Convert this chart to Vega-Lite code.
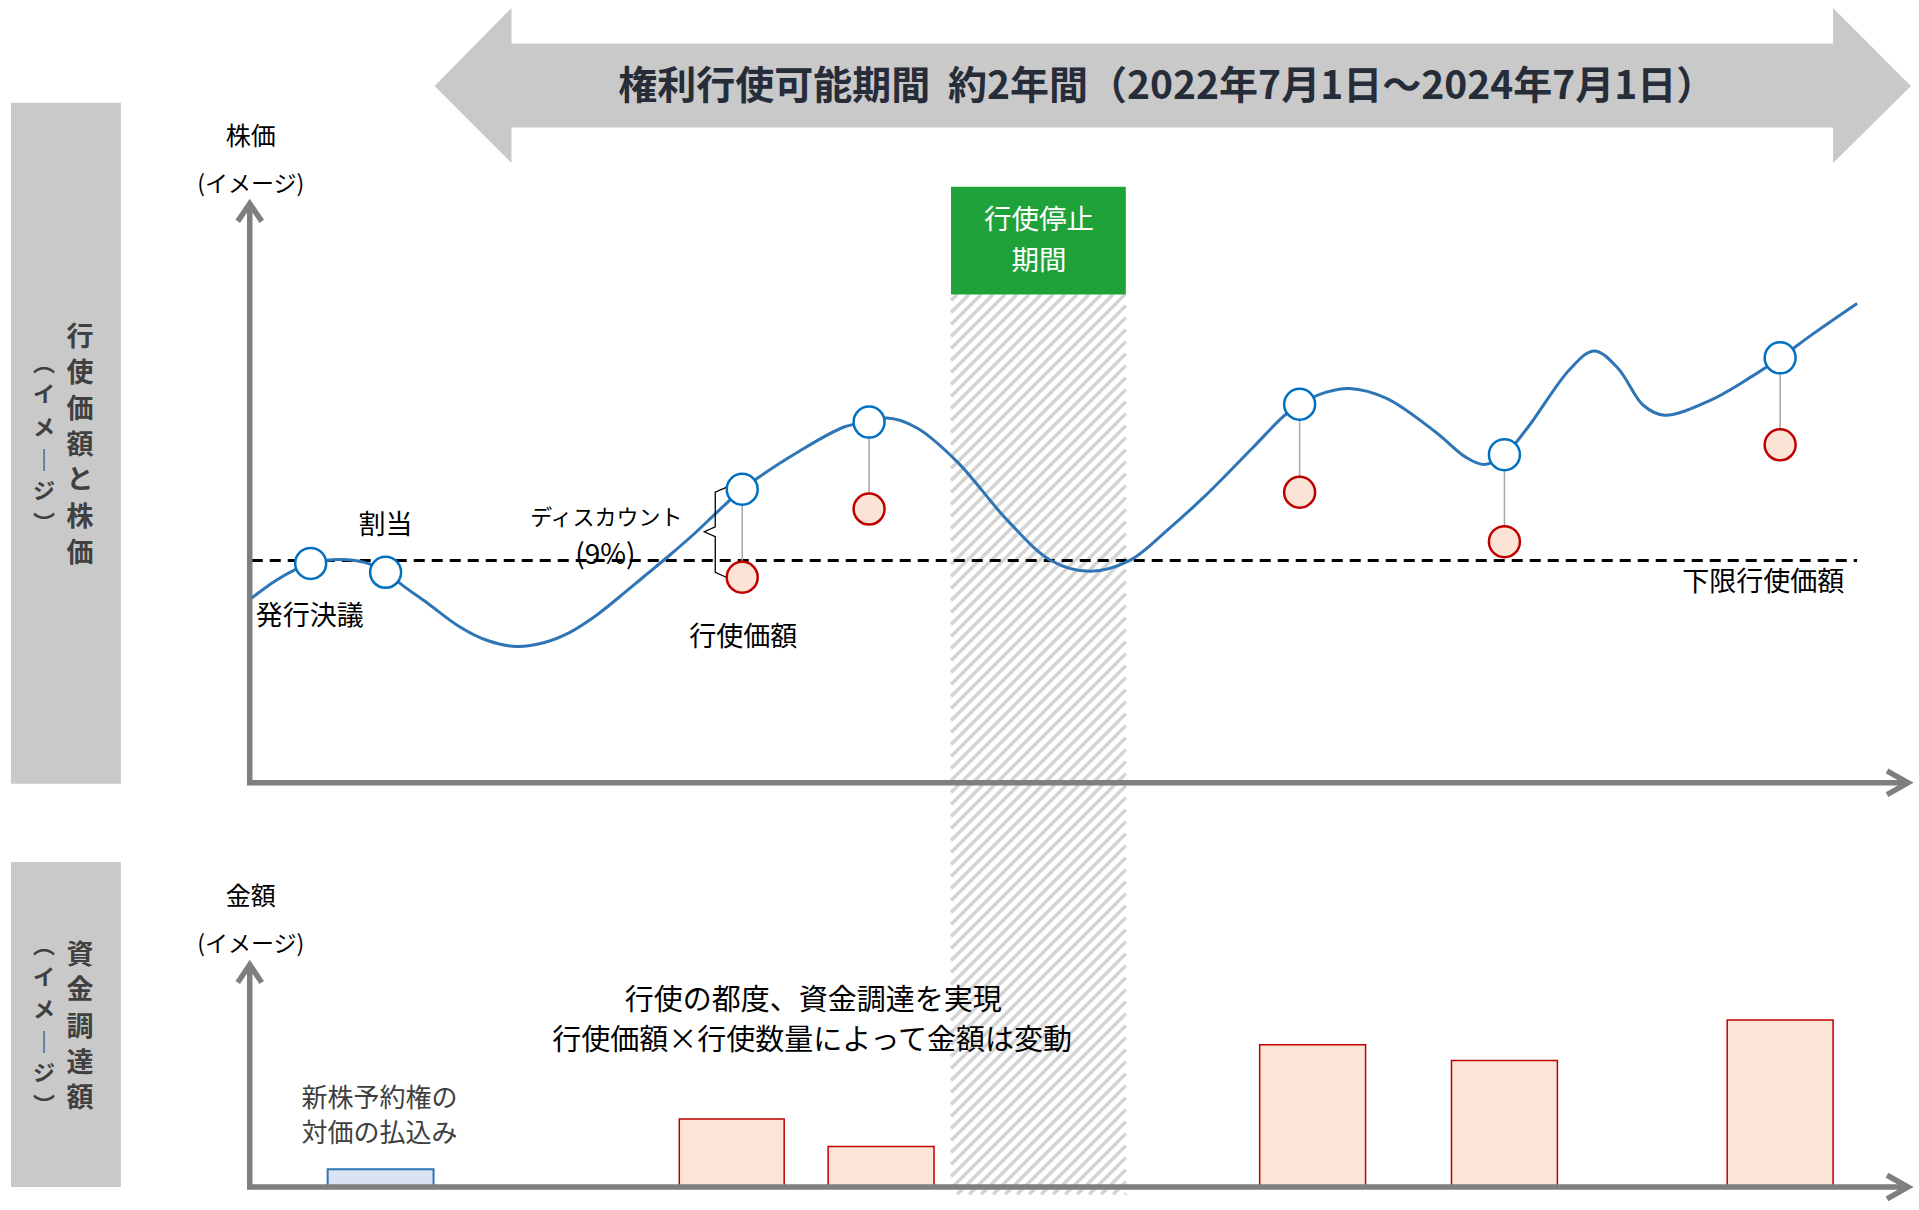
{
  "$schema": "https://vega.github.io/schema/vega-lite/v6.json",
  "width": 1919,
  "height": 1210,
  "autosize": {"type": "fit", "contains": "padding"},
  "padding": 0,
  "background": "white",
  "config": {"view": {"stroke": null}, "text": {"font": "Noto Sans CJK JP"}},
  "encoding": {
    "x": {"field": "x", "type": "quantitative", "scale": {"domain": [0, 1919], "nice": false, "zero": false}, "axis": null},
    "y": {"field": "y", "type": "quantitative", "scale": {"domain": [0, 1210], "nice": false, "zero": false, "reverse": true}, "axis": null}
  },
  "datasets": {
    "panels": [{"x": 11, "x2": 121, "y": 104, "y2": 793}, {"x": 11, "x2": 121, "y": 872, "y2": 1201}],
    "green": [{"x": 952, "x2": 1127, "y": 189, "y2": 298}],
    "hatch": [{"x": 952, "y": 298}],
    "shaft": [{"x": 511, "x2": 1836, "y": 44, "y2": 129}],
    "heads": [
      {"h": "L", "x": 435, "y": 87, "y2": 87},
      {"h": "L", "x": 512, "y": 8, "y2": 165},
      {"h": "R", "x": 1835, "y": 8, "y2": 165},
      {"h": "R", "x": 1913, "y": 87, "y2": 87}
    ],
    "axes": [
      {"g": "a1", "i": 1, "x": 250, "y": 206}, {"g": "a1", "i": 2, "x": 250, "y": 792}, {"g": "a1", "i": 3, "x": 1908, "y": 792},
      {"g": "a2", "i": 1, "x": 238, "y": 224}, {"g": "a2", "i": 2, "x": 250, "y": 206}, {"g": "a2", "i": 3, "x": 262, "y": 224},
      {"g": "a3", "i": 1, "x": 1889, "y": 780}, {"g": "a3", "i": 2, "x": 1910, "y": 792}, {"g": "a3", "i": 3, "x": 1889, "y": 804},
      {"g": "b1", "i": 1, "x": 250, "y": 976}, {"g": "b1", "i": 2, "x": 250, "y": 1201}, {"g": "b1", "i": 3, "x": 1908, "y": 1201},
      {"g": "b2", "i": 1, "x": 238, "y": 994}, {"g": "b2", "i": 2, "x": 250, "y": 976}, {"g": "b2", "i": 3, "x": 262, "y": 994},
      {"g": "b3", "i": 1, "x": 1889, "y": 1189}, {"g": "b3", "i": 2, "x": 1910, "y": 1201}, {"g": "b3", "i": 3, "x": 1889, "y": 1213}
    ],
    "dash": [{"x": 252, "x2": 1859, "y": 567}],
    "bluebar": [{"x": 328, "x2": 434, "y": 1183, "y2": 1201}],
    "redbars": [
      {"x": 680, "x2": 785, "y": 1132, "y2": 1201},
      {"x": 829, "x2": 935, "y": 1160, "y2": 1201},
      {"x": 1261, "x2": 1367, "y": 1057, "y2": 1201},
      {"x": 1453, "x2": 1559, "y": 1073, "y2": 1201},
      {"x": 1729, "x2": 1835, "y": 1032, "y2": 1201}
    ],
    "curve": [
      {"x": 252, "y": 605}, {"x": 275, "y": 588}, {"x": 296, "y": 576}, {"x": 311, "y": 570}, {"x": 340, "y": 566},
      {"x": 365, "y": 569}, {"x": 386, "y": 579}, {"x": 404, "y": 593}, {"x": 429, "y": 611}, {"x": 460, "y": 634},
      {"x": 488, "y": 648}, {"x": 517, "y": 654}, {"x": 545, "y": 650}, {"x": 570, "y": 640}, {"x": 595, "y": 624},
      {"x": 620, "y": 604}, {"x": 645, "y": 583}, {"x": 670, "y": 562}, {"x": 695, "y": 540}, {"x": 720, "y": 516},
      {"x": 743, "y": 495}, {"x": 765, "y": 479}, {"x": 796, "y": 459}, {"x": 845, "y": 432}, {"x": 870, "y": 427},
      {"x": 888, "y": 423}, {"x": 918, "y": 433}, {"x": 958, "y": 467}, {"x": 1009, "y": 527}, {"x": 1052, "y": 567},
      {"x": 1091, "y": 578}, {"x": 1131, "y": 567}, {"x": 1170, "y": 535}, {"x": 1205, "y": 503}, {"x": 1254, "y": 453},
      {"x": 1285, "y": 421}, {"x": 1301, "y": 409}, {"x": 1327, "y": 397}, {"x": 1351, "y": 393}, {"x": 1388, "y": 403},
      {"x": 1437, "y": 437}, {"x": 1468, "y": 463}, {"x": 1486, "y": 470}, {"x": 1506, "y": 460}, {"x": 1529, "y": 433},
      {"x": 1572, "y": 373}, {"x": 1596, "y": 355}, {"x": 1620, "y": 373}, {"x": 1645, "y": 410}, {"x": 1666, "y": 420},
      {"x": 1712, "y": 405}, {"x": 1755, "y": 380}, {"x": 1782, "y": 362}, {"x": 1816, "y": 337}, {"x": 1859, "y": 307}
    ],
    "conn": [
      {"x": 743, "y": 495, "y2": 584}, {"x": 870, "y": 427, "y2": 515}, {"x": 1301, "y": 409, "y2": 498},
      {"x": 1506, "y": 460, "y2": 548}, {"x": 1782, "y": 362, "y2": 450}
    ],
    "brace": [
      {"i": 1, "x": 727, "y": 493}, {"i": 2, "x": 716, "y": 498}, {"i": 3, "x": 716, "y": 533}, {"i": 4, "x": 705, "y": 538},
      {"i": 5, "x": 716, "y": 543}, {"i": 6, "x": 716, "y": 579}, {"i": 7, "x": 727, "y": 584}
    ],
    "bluepts": [
      {"x": 311, "y": 570}, {"x": 386, "y": 579}, {"x": 743, "y": 495}, {"x": 870, "y": 427},
      {"x": 1301, "y": 409}, {"x": 1506, "y": 460}, {"x": 1782, "y": 362}
    ],
    "redpts": [
      {"x": 743, "y": 584}, {"x": 870, "y": 515}, {"x": 1301, "y": 498}, {"x": 1506, "y": 548}, {"x": 1782, "y": 450}
    ],
    "sideMain": [
      {"x": 80, "y": 342, "t": "行"}, {"x": 80, "y": 378, "t": "使"}, {"x": 80, "y": 415, "t": "価"}, {"x": 80, "y": 451, "t": "額"},
      {"x": 80, "y": 487, "t": "と"}, {"x": 80, "y": 524, "t": "株"}, {"x": 80, "y": 560, "t": "価"},
      {"x": 80, "y": 967, "t": "資"}, {"x": 80, "y": 1003, "t": "金"}, {"x": 80, "y": 1040, "t": "調"}, {"x": 80, "y": 1076, "t": "達"},
      {"x": 80, "y": 1112, "t": "額"}
    ],
    "sideSub": [
      {"x": 44, "y": 368, "t": "︵"}, {"x": 44, "y": 400, "t": "イ"}, {"x": 44, "y": 433, "t": "メ"}, {"x": 44, "y": 466, "t": "｜"},
      {"x": 44, "y": 498, "t": "ジ"}, {"x": 44, "y": 530, "t": "︶"},
      {"x": 44, "y": 957, "t": "︵"}, {"x": 44, "y": 989, "t": "イ"}, {"x": 44, "y": 1022, "t": "メ"}, {"x": 44, "y": 1055, "t": "｜"},
      {"x": 44, "y": 1087, "t": "ジ"}, {"x": 44, "y": 1119, "t": "︶"}
    ],
    "title": [{"x": 1168, "y": 88, "t": "権利行使可能期間\u00a0\u00a0約2年間（2022年7月1日～2024年7月1日）"}],
    "greenText": [{"x": 1040, "y": 224, "t": "行使停止"}, {"x": 1040, "y": 265, "t": "期間"}],
    "axisTitle": [{"x": 251, "y": 139, "t": "株価"}, {"x": 251, "y": 908, "t": "金額"}],
    "axisSub": [{"x": 251, "y": 187, "t": "(イメージ)"}, {"x": 251, "y": 956, "t": "(イメージ)"}],
    "labels": [
      {"x": 386, "y": 532, "t": "割当"},
      {"x": 310, "y": 624, "t": "発行決議"},
      {"x": 744, "y": 645, "t": "行使価額"},
      {"x": 1765, "y": 590, "t": "下限行使価額"}
    ],
    "discount": [{"x": 607, "y": 524, "t": "ディスカウント"}],
    "pct": [{"x": 606, "y": 563, "t": "(9%)"}],
    "note": [{"x": 814, "y": 1013, "t": "行使の都度、資金調達を実現"}, {"x": 813, "y": 1053, "t": "行使価額×行使数量によって金額は変動"}],
    "payin": [{"x": 380, "y": 1112, "t": "新株予約権の"}, {"x": 380, "y": 1147, "t": "対価の払込み"}]
  },
  "layer": [
    {
      "data": {"name": "hatch"},
      "mark": {
        "type": "point", "filled": false, "size": 4, "opacity": 1, "color": "#d4d4d4", "strokeWidth": 3.5,
        "shape": "M0,6L6,0M0,18L18,0M0,30L30,0M0,42L42,0M0,54L54,0M0,66L66,0M0,78L78,0M0,90L90,0M0,102L102,0M0,114L114,0M0,126L126,0M0,138L138,0M0,150L150,0M0,162L162,0M0,174L174,0M0,186L175,11M0,198L175,23M0,210L175,35M0,222L175,47M0,234L175,59M0,246L175,71M0,258L175,83M0,270L175,95M0,282L175,107M0,294L175,119M0,306L175,131M0,318L175,143M0,330L175,155M0,342L175,167M0,354L175,179M0,366L175,191M0,378L175,203M0,390L175,215M0,402L175,227M0,414L175,239M0,426L175,251M0,438L175,263M0,450L175,275M0,462L175,287M0,474L175,299M0,486L175,311M0,498L175,323M0,510L175,335M0,522L175,347M0,534L175,359M0,546L175,371M0,558L175,383M0,570L175,395M0,582L175,407M0,594L175,419M0,606L175,431M0,618L175,443M0,630L175,455M0,642L175,467M0,654L175,479M0,666L175,491M0,678L175,503M0,690L175,515M0,702L175,527M0,714L175,539M0,726L175,551M0,738L175,563M0,750L175,575M0,762L175,587M0,774L175,599M0,786L175,611M0,798L175,623M0,810L175,635M0,822L175,647M0,834L175,659M0,846L175,671M0,858L175,683M0,870L175,695M0,882L175,707M0,894L175,719M6,900L175,731M18,900L175,743M30,900L175,755M42,900L175,767M54,900L175,779M66,900L175,791M78,900L175,803M90,900L175,815M102,900L175,827M114,900L175,839M126,900L175,851M138,900L175,863M150,900L175,875M162,900L175,887M174,900L175,899"
      }
    },
    {
      "data": {"name": "green"},
      "mark": {"type": "rect", "color": "#1fa23a"},
      "encoding": {"x2": {"field": "x2"}, "y2": {"field": "y2"}}
    },
    {
      "data": {"name": "panels"},
      "mark": {"type": "rect", "color": "#c9c9c9"},
      "encoding": {"x2": {"field": "x2"}, "y2": {"field": "y2"}}
    },
    {
      "data": {"name": "shaft"},
      "mark": {"type": "rect", "color": "#c9c9c9"},
      "encoding": {"x2": {"field": "x2"}, "y2": {"field": "y2"}}
    },
    {
      "data": {"name": "heads"},
      "mark": {"type": "area", "color": "#c9c9c9", "opacity": 1},
      "encoding": {"y2": {"field": "y2"}, "detail": {"field": "h"}}
    },
    {
      "data": {"name": "dash"},
      "mark": {"type": "rule", "color": "#000000", "strokeWidth": 3, "strokeDash": [11, 7]},
      "encoding": {"x2": {"field": "x2"}}
    },
    {
      "data": {"name": "bluebar"},
      "mark": {"type": "rect", "fill": "#dae3f3", "stroke": "#2e75b6", "strokeWidth": 2},
      "encoding": {"x2": {"field": "x2"}, "y2": {"field": "y2"}}
    },
    {
      "data": {"name": "redbars"},
      "mark": {"type": "rect", "fill": "#fbe5d6", "stroke": "#c00000", "strokeWidth": 1.5},
      "encoding": {"x2": {"field": "x2"}, "y2": {"field": "y2"}}
    },
    {
      "data": {"name": "axes"},
      "mark": {"type": "line", "color": "#7f7f7f", "strokeWidth": 5.5, "strokeJoin": "miter", "strokeCap": "butt"},
      "encoding": {"detail": {"field": "g"}, "order": {"field": "i", "type": "quantitative"}}
    },
    {
      "data": {"name": "curve"},
      "mark": {"type": "line", "color": "#2e75b6", "strokeWidth": 3, "interpolate": "catmull-rom"}
    },
    {
      "data": {"name": "conn"},
      "mark": {"type": "rule", "color": "#a6a6a6", "strokeWidth": 1.5},
      "encoding": {"y2": {"field": "y2"}}
    },
    {
      "data": {"name": "brace"},
      "mark": {"type": "line", "color": "#000000", "strokeWidth": 1.3},
      "encoding": {"order": {"field": "i", "type": "quantitative"}}
    },
    {
      "data": {"name": "bluepts"},
      "mark": {"type": "circle", "size": 960, "opacity": 1, "fill": "#ffffff", "stroke": "#0070c0", "strokeWidth": 2.5}
    },
    {
      "data": {"name": "redpts"},
      "mark": {"type": "circle", "size": 960, "opacity": 1, "fill": "#fbe3d6", "stroke": "#c00000", "strokeWidth": 2.5}
    },
    {
      "data": {"name": "sideMain"},
      "mark": {"type": "text", "fontSize": 27, "fontWeight": "bold", "color": "#404040", "align": "center", "baseline": "middle"},
      "encoding": {"text": {"field": "t"}}
    },
    {
      "data": {"name": "sideSub"},
      "mark": {"type": "text", "fontSize": 22, "fontWeight": "bold", "color": "#404040", "align": "center", "baseline": "middle"},
      "encoding": {"text": {"field": "t"}}
    },
    {
      "data": {"name": "title"},
      "mark": {"type": "text", "fontSize": 39, "fontWeight": "bold", "color": "#262c38", "align": "center", "baseline": "middle"},
      "encoding": {"text": {"field": "t"}}
    },
    {
      "data": {"name": "greenText"},
      "mark": {"type": "text", "fontSize": 27.5, "color": "#ffffff", "align": "center", "baseline": "middle"},
      "encoding": {"text": {"field": "t"}}
    },
    {
      "data": {"name": "axisTitle"},
      "mark": {"type": "text", "fontSize": 25, "color": "#000000", "align": "center", "baseline": "middle"},
      "encoding": {"text": {"field": "t"}}
    },
    {
      "data": {"name": "axisSub"},
      "mark": {"type": "text", "fontSize": 23, "color": "#000000", "align": "center", "baseline": "middle"},
      "encoding": {"text": {"field": "t"}}
    },
    {
      "data": {"name": "labels"},
      "mark": {"type": "text", "fontSize": 27, "color": "#000000", "align": "center", "baseline": "middle"},
      "encoding": {"text": {"field": "t"}}
    },
    {
      "data": {"name": "discount"},
      "mark": {"type": "text", "fontSize": 22, "color": "#000000", "align": "center", "baseline": "middle"},
      "encoding": {"text": {"field": "t"}}
    },
    {
      "data": {"name": "pct"},
      "mark": {"type": "text", "fontSize": 28, "color": "#000000", "align": "center", "baseline": "middle"},
      "encoding": {"text": {"field": "t"}}
    },
    {
      "data": {"name": "note"},
      "mark": {"type": "text", "fontSize": 29, "color": "#000000", "align": "center", "baseline": "middle"},
      "encoding": {"text": {"field": "t"}}
    },
    {
      "data": {"name": "payin"},
      "mark": {"type": "text", "fontSize": 26, "color": "#404040", "align": "center", "baseline": "middle"},
      "encoding": {"text": {"field": "t"}}
    }
  ]
}
